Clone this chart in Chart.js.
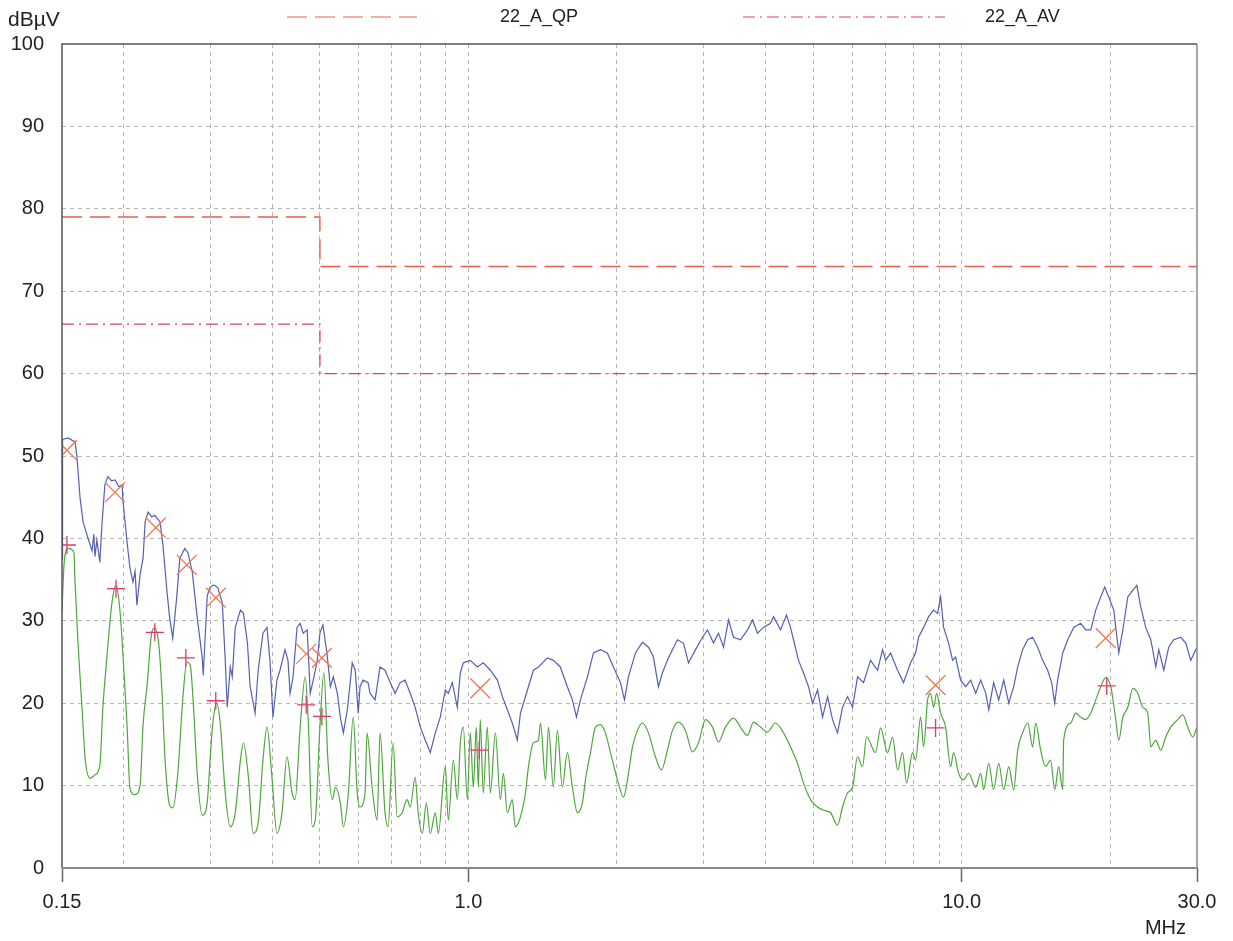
<!DOCTYPE html>
<html>
<head>
<meta charset="utf-8">
<title>22_A conducted emission</title>
<script src="https://cdn.jsdelivr.net/npm/chart.js@4.4.1/dist/chart.umd.min.js"></script>
<style>
	html, body { margin: 0; padding: 0; background: #fff; }
	#wrap { width: 1233px; height: 941px; position: relative; }
</style>
</head>
<body>
<div id="wrap"><canvas id="emiChart"></canvas></div>
<script>
// Limit lines (MHz, dBuV)
const qpLimitFreq = [0.15, 0.5, 0.5, 30];
const qpLimitLevel = [79, 79, 73, 73];
const avLimitFreq = [0.15, 0.5, 0.5, 30];
const avLimitLevel = [66, 66, 60, 60];

// Peak sweep (blue)
const peakFreq = [
	0.150, 0.1504, 0.1543, 0.1594, 0.1609, 0.1632, 0.1655, 0.1694, 0.1726, 0.1740,
	0.1750, 0.1765, 0.1790, 0.1807, 0.1832, 0.1858, 0.1890, 0.1921, 0.1955, 0.1985,
	0.1995, 0.2032, 0.2060, 0.2089, 0.2110, 0.2128, 0.2160, 0.2190, 0.2211, 0.2242,
	0.2280, 0.2313, 0.2370, 0.2403, 0.2449, 0.2480, 0.2515, 0.2562, 0.2600, 0.2661,
	0.2699, 0.2756, 0.2821, 0.2887, 0.2900, 0.2955, 0.2990, 0.3032, 0.3061, 0.3104,
	0.3170, 0.3214, 0.3244, 0.3290, 0.3321, 0.3368, 0.3450, 0.3499, 0.3565, 0.3610,
	0.3695, 0.3748, 0.3833, 0.3905, 0.3960, 0.4016, 0.4091, 0.4150, 0.4248, 0.4308,
	0.4350, 0.4411, 0.4494, 0.4560, 0.4624, 0.4711, 0.4780, 0.4847, 0.4939, 0.5000,
	0.5071, 0.5166, 0.5250, 0.5324, 0.5424, 0.5500, 0.5578, 0.5683, 0.5814, 0.5896,
	0.5979, 0.6030, 0.6115, 0.6260, 0.6320, 0.6469, 0.6620, 0.6776, 0.6940, 0.7104,
	0.7270, 0.7442, 0.7620, 0.7800, 0.7990, 0.8179, 0.8370, 0.8568, 0.8770, 0.8977,
	0.9104, 0.9276, 0.9495, 0.9630, 0.9766, 1.009, 1.0425, 1.0719, 1.108, 1.1448,
	1.1719, 1.1995, 1.2274, 1.2564, 1.275, 1.3173, 1.3548, 1.3869, 1.4465, 1.4867,
	1.536, 1.587, 1.625, 1.656, 1.687, 1.743, 1.793, 1.852, 1.913, 1.968,
	2.034, 2.072, 2.111, 2.181, 2.254, 2.318, 2.372, 2.428, 2.474, 2.532,
	2.592, 2.653, 2.729, 2.794, 2.887, 2.983, 3.053, 3.140, 3.214, 3.290,
	3.368, 3.447, 3.562, 3.680, 3.767, 3.856, 3.965, 4.097, 4.155, 4.293,
	4.415, 4.498, 4.561, 4.669, 4.779, 4.893, 4.985, 5.103, 5.224, 5.347,
	5.473, 5.602, 5.734, 5.870, 6.009, 6.151, 6.326, 6.536, 6.753, 6.913,
	7.011, 7.176, 7.414, 7.625, 7.879, 8.065, 8.179, 8.372, 8.570, 8.772,
	8.937, 9.064, 9.192, 9.409, 9.586, 9.721, 9.951, 10.19, 10.43, 10.68,
	10.93, 11.19, 11.35, 11.61, 11.89, 12.17, 12.46, 12.75, 12.99, 13.29,
	13.61, 13.93, 14.26, 14.60, 14.94, 15.22, 15.44, 15.65, 16.03, 16.41,
	16.87, 17.43, 17.84, 18.27, 18.70, 19.14, 19.50, 19.87, 20.34, 20.82,
	21.22, 21.72, 22.23, 22.65, 23.07, 23.61, 24.18, 24.75, 25.10, 25.69,
	26.29, 26.91, 27.81, 28.47, 29.14, 29.83, 30.0
];
const peakLevel = [
	37.5, 52.0, 52.2, 51.7, 49.8, 44.9, 42.0, 40.0, 38.5, 40.5,
	37.8, 39.8, 37.1, 41.6, 46.5, 47.5, 47.0, 47.1, 46.3, 46.5,
	44.4, 39.6, 36.4, 34.7, 36.0, 31.9, 35.6, 37.6, 42.0, 43.2,
	42.6, 42.8, 42.0, 39.2, 33.5, 30.3, 27.9, 32.8, 37.6, 38.8,
	38.3, 35.9, 30.3, 25.5, 23.4, 33.0, 34.0, 34.3, 34.3, 34.0,
	32.2, 25.2, 19.5, 24.4, 23.2, 29.2, 31.3, 30.9, 27.3, 22.0,
	18.8, 24.0, 28.5, 29.2, 25.2, 18.3, 22.8, 24.0, 26.5, 25.2,
	21.2, 23.2, 29.2, 29.7, 28.5, 28.9, 21.2, 22.8, 25.2, 28.5,
	29.5, 26.1, 22.0, 23.2, 21.2, 18.3, 16.4, 19.2, 24.9, 24.0,
	18.8, 22.0, 22.8, 22.5, 21.2, 20.4, 24.4, 24.0, 22.5, 21.2,
	22.5, 22.8, 21.2, 19.5, 17.1, 15.5, 14.0, 16.4, 18.3, 21.6,
	21.2, 22.5, 19.5, 23.7, 24.9, 25.2, 24.4, 24.9, 24.0, 22.8,
	20.8, 19.2, 17.6, 15.5, 18.8, 21.6, 24.0, 24.4, 25.5, 25.2,
	24.4, 22.0, 20.4, 18.3, 20.4, 23.2, 26.1, 26.5, 26.1, 24.4,
	22.5, 20.4, 23.2, 26.1, 27.4, 26.8, 25.6, 22.0, 23.7, 25.2,
	26.5, 27.7, 27.3, 24.9, 26.5, 28.0, 28.9, 27.3, 28.5, 26.8,
	30.1, 28.0, 27.7, 28.9, 30.1, 28.5, 29.2, 29.7, 30.5, 28.9,
	30.7, 29.2, 27.7, 25.2, 23.7, 22.0, 20.0, 21.6, 18.3, 20.8,
	18.0, 16.4, 19.5, 20.8, 19.5, 23.2, 22.5, 25.2, 24.0, 26.5,
	25.2, 26.1, 24.0, 22.5, 24.9, 26.1, 28.0, 29.2, 30.5, 31.3,
	30.9, 32.9, 29.2, 27.3, 25.2, 25.6, 22.8, 22.0, 22.8, 21.2,
	22.8, 21.2, 19.2, 22.5, 20.4, 22.8, 20.0, 22.0, 24.4, 26.5,
	27.7, 28.0, 26.8, 25.2, 24.0, 22.5, 20.0, 22.8, 26.1, 27.7,
	29.2, 29.7, 28.9, 28.9, 31.3, 32.9, 34.1, 32.9, 31.3, 26.1,
	28.9, 32.9, 33.7, 34.3, 31.7, 29.2, 27.7, 24.4, 26.5, 24.0,
	26.8, 27.7, 28.0, 27.3, 25.2, 26.5, 26.8
];

// Average sweep (green)
const avgFreq = [
	0.150, 0.1515, 0.1543, 0.1586, 0.1594, 0.1616, 0.1647, 0.1671, 0.1710, 0.1750,
	0.1790, 0.1815, 0.1849, 0.1895, 0.1930, 0.1967, 0.1995, 0.2032, 0.2060, 0.2109,
	0.2160, 0.2190, 0.2232, 0.2281, 0.2313, 0.2357, 0.2392, 0.2426, 0.2480, 0.2515,
	0.2574, 0.2637, 0.2686, 0.2730, 0.2768, 0.2821, 0.2887, 0.2955, 0.2990, 0.3032,
	0.3089, 0.3140, 0.3214, 0.3290, 0.3368, 0.3450, 0.3499, 0.3581, 0.3661, 0.3748,
	0.3833, 0.3905, 0.3997, 0.4091, 0.4189, 0.4288, 0.4391, 0.4453, 0.4560, 0.4668,
	0.4734, 0.4825, 0.4893, 0.5000, 0.5094, 0.5190, 0.5299, 0.5374, 0.5500, 0.5578,
	0.5710, 0.5841, 0.5951, 0.6030, 0.6172, 0.6230, 0.6379, 0.6530, 0.6620, 0.6776,
	0.6872, 0.7038, 0.7170, 0.7338, 0.7511, 0.7620, 0.7800, 0.7910, 0.8065, 0.8217,
	0.8370, 0.8568, 0.8689, 0.8977, 0.9104, 0.9320, 0.9495, 0.9630, 0.9766, 0.9950,
	1.009, 1.0232, 1.0377, 1.0474, 1.057, 1.0719, 1.0921, 1.108, 1.1342, 1.161,
	1.1774, 1.1995, 1.2274, 1.2447, 1.275, 1.3051, 1.3236, 1.3548, 1.3869, 1.400,
	1.4330, 1.4533, 1.4867, 1.5147, 1.5504, 1.587, 1.625, 1.6635, 1.7029, 1.7268,
	1.768, 1.8097, 1.852, 1.8957, 1.941, 2.0054, 2.0627, 2.1015, 2.1510, 2.2017,
	2.254, 2.318, 2.3942, 2.4625, 2.532, 2.592, 2.6658, 2.7545, 2.8465, 2.9274,
	3.0247, 3.1251, 3.214, 3.3206, 3.447, 3.5955, 3.680, 3.7846, 3.910, 4.0398,
	4.1937, 4.3535, 4.498, 4.6473, 4.779, 4.939, 5.103, 5.248, 5.422, 5.602,
	5.734, 5.870, 6.009, 6.151, 6.297, 6.415, 6.690, 6.849, 7.076, 7.243,
	7.414, 7.590, 7.733, 7.953, 8.065, 8.256, 8.372, 8.530, 8.650, 8.772,
	8.896, 9.064, 9.278, 9.497, 9.631, 9.859, 10.09, 10.33, 10.68, 10.93,
	11.08, 11.35, 11.61, 11.89, 12.17, 12.46, 12.75, 12.99, 13.29, 13.61,
	13.93, 14.13, 14.46, 14.80, 15.15, 15.44, 15.73, 16.03, 16.10, 16.64,
	17.03, 17.43, 17.84, 18.27, 18.70, 19.14, 19.59, 20.06, 20.53, 20.82,
	21.22, 21.72, 22.23, 22.75, 23.29, 23.84, 24.18, 24.75, 25.33, 25.93,
	26.54, 27.42, 28.07, 28.73, 29.41, 30.0
];
const avgLevel = [
	31.0, 37.0, 38.8, 38.3, 34.7, 27.4, 19.4, 13.3, 10.9, 11.3,
	12.5, 19.4, 25.5, 32.3, 34.3, 31.1, 25.5, 17.4, 9.7, 8.9,
	10.1, 17.4, 22.2, 28.6, 29.1, 27.1, 21.4, 13.3, 7.6, 7.3,
	11.3, 20.6, 25.0, 24.6, 20.1, 11.3, 6.4, 8.0, 12.5, 17.5,
	20.0, 17.5, 9.1, 5.0, 6.7, 13.1, 15.2, 11.0, 4.2, 5.5,
	13.1, 17.1, 11.0, 4.2, 6.7, 13.5, 9.1, 8.3, 17.1, 23.2,
	18.0, 5.0, 5.8, 17.1, 23.7, 13.1, 8.3, 9.8, 7.9, 5.0,
	9.1, 18.3, 9.1, 7.4, 9.1, 16.4, 9.8, 5.8, 16.4, 6.7,
	5.0, 15.2, 6.2, 6.7, 8.3, 7.4, 11.0, 6.7, 4.2, 7.9,
	4.2, 6.7, 4.2, 12.3, 5.8, 13.1, 8.3, 15.2, 17.1, 8.3,
	16.4, 9.8, 17.1, 9.8, 18.0, 9.1, 17.1, 9.1, 16.4, 8.3,
	11.5, 6.7, 8.3, 5.0, 6.2, 9.1, 12.3, 15.2, 15.5, 17.6,
	10.7, 17.1, 9.8, 16.7, 9.8, 14.0, 9.8, 6.7, 7.9, 10.7,
	14.0, 17.1, 17.4, 16.4, 14.0, 10.7, 8.6, 10.7, 14.7, 16.7,
	17.6, 16.4, 13.5, 11.9, 14.3, 16.7, 17.7, 16.7, 14.1, 15.2,
	18.0, 17.1, 15.3, 17.1, 18.2, 16.7, 16.1, 17.7, 17.1, 16.5,
	17.6, 16.4, 14.7, 12.7, 10.3, 8.3, 7.4, 7.0, 6.7, 5.2,
	7.4, 9.1, 9.8, 13.5, 12.3, 15.9, 14.0, 17.0, 14.0, 15.9,
	11.9, 14.0, 10.3, 14.0, 13.1, 18.3, 14.7, 20.4, 21.2, 19.5,
	21.2, 18.8, 17.1, 12.3, 14.0, 11.5, 10.7, 11.5, 9.8, 11.5,
	9.5, 12.7, 9.5, 12.7, 9.5, 12.3, 9.5, 14.3, 16.4, 17.6,
	14.7, 17.6, 14.3, 12.3, 13.1, 9.5, 12.3, 9.5, 15.5, 17.6,
	18.8, 18.3, 18.0, 18.8, 20.4, 22.0, 23.1, 22.0, 18.0, 15.5,
	18.3, 19.5, 21.8, 21.2, 19.5, 18.8, 14.7, 15.5, 14.3, 15.9,
	17.1, 18.0, 18.6, 17.1, 15.9, 17.1
];

// Final measurement points: QP (x) and AV (+)
const qpMarkFreq = [0.1535, 0.1921, 0.2324, 0.2686, 0.3075, 0.4690, 0.5047, 1.057, 8.854, 19.59];
const qpMarkLevel = [50.7, 45.6, 41.3, 36.8, 32.8, 26.0, 25.5, 21.8, 22.2, 27.9];
const avMarkFreq = [0.1535, 0.1930, 0.2313, 0.2674, 0.3075, 0.4690, 0.5047, 1.052, 8.854, 19.68];
const avMarkLevel = [39.2, 33.9, 28.6, 25.5, 20.3, 19.8, 18.4, 14.3, 17.0, 22.1];

// Axis ticks
const xGridTicks = [0.15, 0.2, 0.3, 0.4, 0.5, 0.6, 0.7, 0.8, 0.9, 1, 2, 3, 4, 5, 6, 7, 8, 9, 10, 20, 30];
const xTickLabels = { 0.15: "0.15", 1: "1.0", 10: "10.0", 30: "30.0" };

const QP_COLOR = "#e6604a";
const AV_COLOR = "#d8407a";
const PEAK_COLOR = "#5560b4";
const AVG_COLOR = "#4fa63e";
const X_MARK_COLOR = "#f07550";
const PLUS_MARK_COLOR = "#e03a68";
const FONT = "'Liberation Sans', Arial, sans-serif";

function toPoints(xs, ys) {
	return xs.map((x, i) => ({ x: x, y: ys[i] }));
}

// frame round the plot area
const framePlugin = {
	id: "frame",
	afterDatasetsDraw(chart) {
		const { ctx, chartArea: a } = chart;
		ctx.save();
		ctx.setLineDash([]);
		ctx.strokeStyle = "#555";
		ctx.lineWidth = 1.5;
		ctx.beginPath();
		ctx.moveTo(a.left, a.bottom);
		ctx.lineTo(a.left, a.top);
		ctx.lineTo(a.right, a.top);
		ctx.stroke();
		ctx.strokeStyle = "#888";
		ctx.beginPath();
		ctx.moveTo(a.right, a.top);
		ctx.lineTo(a.right, a.bottom);
		ctx.stroke();
		ctx.lineWidth = 2;
		ctx.beginPath();
		ctx.moveTo(a.left, a.bottom);
		ctx.lineTo(a.right, a.bottom);
		ctx.stroke();
		ctx.restore();
	},
};

// unit labels and legend for the limit lines
const legendItems = [
	{ text: "22_A_QP", color: QP_COLOR, dash: [20, 8], x0: 287, x1: 417, tx: 500 },
	{ text: "22_A_AV", color: AV_COLOR, dash: [12, 5, 2, 5], x0: 743, x1: 945, tx: 985 },
];

const headerPlugin = {
	id: "header",
	afterDraw(chart) {
		const ctx = chart.ctx;
		ctx.save();
		ctx.fillStyle = "#222";
		ctx.font = "21px " + FONT;
		ctx.textBaseline = "middle";
		ctx.textAlign = "left";
		ctx.fillText("dBµV", 8, 20);
		ctx.font = "20px " + FONT;
		ctx.textAlign = "right";
		ctx.fillText("MHz", 1186, 928);

		legendItems.forEach((item) => {
			ctx.strokeStyle = item.color;
			ctx.lineWidth = 1.2;
			ctx.setLineDash(item.dash);
			ctx.beginPath();
			ctx.moveTo(item.x0, 17);
			ctx.lineTo(item.x1, 17);
			ctx.stroke();
			ctx.textAlign = "left";
			ctx.fillStyle = "#222";
			ctx.font = "18px " + FONT;
			ctx.fillText(item.text, item.tx, 17);
		});
		ctx.restore();
	},
};

const chart = new Chart(document.getElementById("emiChart"), {
	type: "line",
	data: {
		datasets: [
			{
				label: "QP final",
				data: toPoints(qpMarkFreq, qpMarkLevel),
				showLine: false,
				pointStyle: "crossRot",
				pointRadius: 14,
				pointBorderWidth: 1.3,
				pointBorderColor: X_MARK_COLOR,
			},
			{
				label: "AV final",
				data: toPoints(avMarkFreq, avMarkLevel),
				showLine: false,
				pointStyle: "cross",
				pointRadius: 9,
				pointBorderWidth: 1.3,
				pointBorderColor: PLUS_MARK_COLOR,
			},
			{
				label: "Peak",
				data: toPoints(peakFreq, peakLevel),
				borderColor: PEAK_COLOR,
				borderWidth: 1.2,
				pointRadius: 0,
				tension: 0,
			},
			{
				label: "Average",
				data: toPoints(avgFreq, avgLevel),
				borderColor: AVG_COLOR,
				borderWidth: 1.2,
				pointRadius: 0,
				cubicInterpolationMode: "monotone",
			},
			{
				label: "22_A_QP",
				data: toPoints(qpLimitFreq, qpLimitLevel),
				borderColor: QP_COLOR,
				borderWidth: 1.4,
				borderDash: [20, 8],
				pointRadius: 0,
			},
			{
				label: "22_A_AV",
				data: toPoints(avLimitFreq, avLimitLevel),
				borderColor: AV_COLOR,
				borderWidth: 1.3,
				borderDash: [12, 5, 2, 5],
				pointRadius: 0,
			},
		],
	},
	options: {
		responsive: true,
		maintainAspectRatio: false,
		animation: false,
		layout: {
			padding: { top: 44, right: 36, left: 0, bottom: 0 },
		},
		plugins: {
			legend: { display: false },
			tooltip: { enabled: false },
		},
		scales: {
			x: {
				type: "logarithmic",
				min: 0.15,
				max: 30,
				afterBuildTicks: (scale) => {
					scale.ticks = xGridTicks.map((v) => ({ value: v }));
				},
				afterFit: (scale) => {
					scale.height = 73;
				},
				ticks: {
					autoSkip: false,
					maxRotation: 0,
					minRotation: 0,
					padding: 8,
					color: "#222",
					font: { family: FONT, size: 20 },
					callback: (value) => xTickLabels[value] || "",
				},
				grid: {
					color: (c) => (c.tick && (c.tick.value === 0.15 || c.tick.value === 30) ? "rgba(0,0,0,0)" : "#b8b8b8"),
					lineWidth: 1,
					tickLength: 14,
					tickWidth: 1.5,
					tickColor: (c) => (c.tick && xTickLabels[c.tick.value] ? "#666" : "rgba(0,0,0,0)"),
				},
				border: { display: false, dash: [4, 4] },
			},
			y: {
				min: 0,
				max: 100,
				afterFit: (scale) => {
					scale.width = 62;
				},
				ticks: {
					stepSize: 10,
					padding: 18,
					color: "#222",
					font: { family: FONT, size: 20 },
				},
				grid: {
					color: (c) => (c.tick && (c.tick.value === 0 || c.tick.value === 100) ? "rgba(0,0,0,0)" : "#b8b8b8"),
					lineWidth: 1,
					drawTicks: false,
				},
				border: { display: false, dash: [4, 4] },
			},
		},
	},
	plugins: [framePlugin, headerPlugin],
});
</script>
</body>
</html>
